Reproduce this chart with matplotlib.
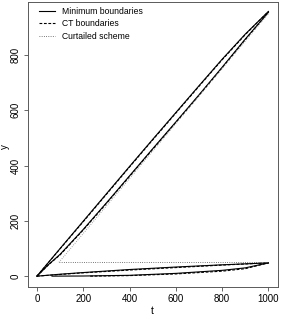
import matplotlib
matplotlib.use("Agg")
import matplotlib.pyplot as plt

plt.rcParams['font.family'] = ['Liberation Sans', 'DejaVu Sans']

# Minimum boundaries (solid)
min_up_outer_t = [0, 100, 200, 300, 400, 500, 600, 700, 800, 900, 1000]
min_up_outer_s = [0, 100, 199, 298, 397, 495, 592, 689, 785, 876, 958]
min_up_inner_t = [0, 50, 100, 200, 300, 400, 500, 600, 700, 800, 900, 1000]
min_up_inner_s = [0, 42, 79, 169, 265, 363, 461, 558, 656, 756, 858, 955]
min_lo_upper_t = [0, 100, 200, 400, 600, 800, 1000]
min_lo_upper_s = [0, 7, 13, 24, 33, 41, 48]
min_lo_lower_t = [65, 200, 400, 600, 800, 900, 1000]
min_lo_lower_s = [0, 0.5, 3, 10, 21, 30, 48]

# CT boundaries (dashed)
ct_up_outer_t = [0, 100, 200, 300, 400, 500, 600, 700, 800, 900, 1000]
ct_up_outer_s = [0, 99, 197, 296, 395, 493, 590, 687, 783, 874, 958]
ct_up_inner_t = [0, 50, 100, 200, 300, 400, 500, 600, 700, 800, 900, 1000]
ct_up_inner_s = [0, 41, 77, 167, 263, 361, 459, 556, 654, 754, 856, 955]
ct_lo_upper_t = [0, 100, 200, 400, 600, 800, 1000]
ct_lo_upper_s = [0, 6, 12, 22, 31, 40, 48]
ct_lo_lower_t = [230, 400, 600, 800, 900, 1000]
ct_lo_lower_s = [0, 2, 8, 18, 27, 48]

# Curtailed scheme (dotted)
cur_h_t = [95, 1000]
cur_h_s = [50, 50]
cur_d_t = [95, 1000]
cur_d_s = [50, 950]

xticks = [0, 200, 400, 600, 800, 1000]
yticks = [0, 200, 400, 600, 800]
legend_labels = ["Minimum boundaries", "CT boundaries", "Curtailed scheme"]

fig = plt.figure(figsize=(2.84, 3.17), dpi=100)
ax = fig.add_axes([27.7/284, 1-286.7/317, 250/284, 285/317])

lw = 0.8
l1, = ax.plot(min_up_outer_t, min_up_outer_s, color='black', lw=lw, ls='-')
ax.plot(min_up_inner_t, min_up_inner_s, color='black', lw=lw, ls='-')
ax.plot(min_lo_upper_t, min_lo_upper_s, color='black', lw=lw, ls='-')
ax.plot(min_lo_lower_t, min_lo_lower_s, color='black', lw=lw, ls='-')

dash = (0, (2.5, 1.5))
l2, = ax.plot(ct_up_outer_t, ct_up_outer_s, color='black', lw=lw, ls=dash)
ax.plot(ct_up_inner_t, ct_up_inner_s, color='black', lw=lw, ls=dash)
ax.plot(ct_lo_upper_t, ct_lo_upper_s, color='black', lw=lw, ls=dash)
ax.plot(ct_lo_lower_t, ct_lo_lower_s, color='black', lw=lw, ls=dash)

dot = (0, (0.8, 1.5))
l3, = ax.plot(cur_h_t, cur_h_s, color='0.35', lw=0.7, ls=dot)
ax.plot(cur_d_t, cur_d_s, color='0.55', lw=0.7, ls=dot)

ax.set_xlim(-40, 1040)
ax.set_ylim(-38.2, 993.2)
ax.set_xticks(xticks)
ax.set_yticks(yticks)
ax.set_xticklabels([str(v) for v in xticks], fontsize=7)
ax.set_yticklabels([str(v) for v in yticks], fontsize=7, rotation=90, va='center')
ax.tick_params(direction='out', length=3, width=0.6, color='0.3', pad=2)
for sp in ax.spines.values():
    sp.set_linewidth(0.7)
    sp.set_color('0.35')

ax.set_xlabel("t", fontsize=7.5, labelpad=2)
ax.set_ylabel("y", fontsize=7)
ax.yaxis.set_label_coords(-0.072, 0.49)

leg = ax.legend([l1, l2, l3], legend_labels, loc='upper left', frameon=False,
                fontsize=6.2, handlelength=1.8, handletextpad=0.8,
                labelspacing=0.4, borderaxespad=0.2,
                bbox_to_anchor=(0.025, 1.0))

fig.savefig("out.png", dpi=100)
